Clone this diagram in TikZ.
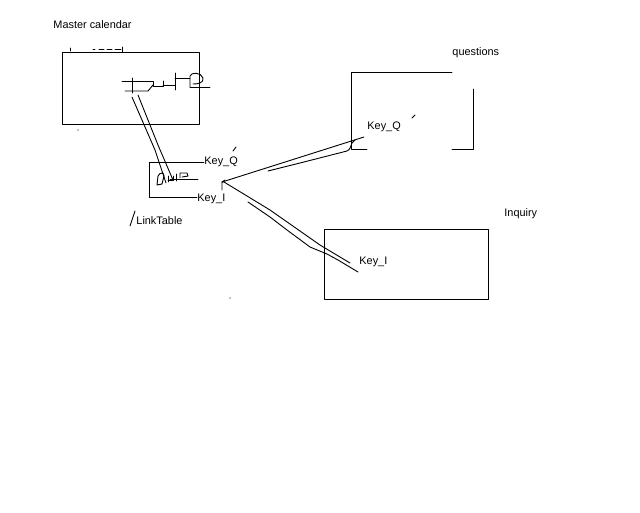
\documentclass[tikz,border=0pt]{standalone}
\usepackage{fontspec}
\setmainfont{Liberation Sans}
\begin{document}
\begin{tikzpicture}[x=1pt,y=-1pt,line width=0.9pt,
  lbl/.style={anchor=base west,inner sep=0pt,font=\fontsize{10.9}{12}\selectfont},
  pen/.style={line width=0.9pt,line join=round,line cap=round}]
\useasboundingbox[fill=white] (0,0) rectangle (640,512);
% boxes
\node[draw,pen,minimum width=137pt,minimum height=72pt,inner sep=0pt,anchor=north west] (mc) at (62,52) {};
\node[minimum width=54pt,minimum height=35pt,inner sep=0pt,anchor=north west] (lt) at (149,162) {};
\node[draw,pen,minimum width=164pt,minimum height=70pt,inner sep=0pt,anchor=north west] (inq) at (324,229) {};
% questions box (open)
\coordinate (q1) at (351,72);
\draw[pen] (452,72) -- (q1) -- (351,149) -- (367,149);
\draw[pen] (452,149) -- (473,149) -- (473,89);
% labels
\node[lbl] (tmc) at (53,28.5) {Master calendar};
\node[lbl] (tq) at (452,55) {questions};
\node[lbl] (tinq) at (504,216) {Inquiry};
\node[lbl] (tlt) at (136,224) {LinkTable};
\node[lbl] (ltkq) at (204,164) {Key\_Q};
\node[lbl] (ltki) at (197,201) {Key\_I};
\node[lbl] (qkq) at (367,129) {Key\_Q};
\node[lbl] (iki) at (359,264) {Key\_I};
% LinkTable open box joined to its key labels
\draw[pen] (ltkq.west|-lt.north west) -- (lt.north west) -- (lt.south west) -- (ltki.west|-lt.south west);
% marks
\draw[pen] (130,226) -- (135,211);
\draw[pen] (233,151) -- (236,147);
\draw[pen] (412,118) -- (415,115);
\draw[pen] (70,48) -- (70,51);
\draw[pen] (93,49) -- (95,49) (99,49) -- (104,49) (107,49) -- (112,49) (115,49) -- (121,49) (122,47) -- (122,52);
\fill (78,130) circle (0.6pt);
\fill (230,298) circle (0.6pt);
% master calendar scribble
\draw[pen] (122,81) -- (153,81) -- (153,86) -- (163,86) -- (163,81);
\draw[pen] (125,91) -- (148,91) -- (153,85);
\draw[pen] (132,78) -- (132,93);
\draw[pen] (163,85) -- (175,85);
\draw[pen] (175,73) -- (175,90);
\draw[pen] (175,78) -- (190,78);
\draw[pen] (190,87) -- (190,76) .. controls (191,72) and (201,72) .. (203,78) .. controls (204,83) and (198,84) .. (193,84);
\draw[pen] (190,87) -- (210,87);
% linktable scribble
\draw[pen] (158,176) .. controls (160,172) and (164,172) .. (164,176) -- (162,184) -- (157,185) -- (158,176);
\draw[pen] (168,182) -- (168,176) (168,180) -- (173,180) -- (173,176) (176,174) -- (176,181);
\draw[pen] (180,178) -- (180,173) -- (187,173) -- (188,176) -- (182,177);
\draw[pen] (170,179) -- (198,179);
% I marks near linktable right
\coordinate (lk) at (222,182);
\draw[pen] (222,190) -- (lk) -- (225,180);
% master -> linktable (double hand line)
\coordinate (m1) at (132,97);
\coordinate (m2) at (138,95);
\coordinate (l1) at (166,183);
\coordinate (l2) at (173,180);
\draw[pen] (m1) -- (155,150) -- (l1);
\draw[pen] (m2) -- (158,145) -- (l2);
% linktable -> questions
\coordinate (qa) at (364,137);
\coordinate (qb) at (352,143);
\draw[pen] (lk) -- (qa);
\draw[pen] (268,171) -- (300,163) -- (347,151) .. controls (350,150) and (351,146) .. (qb) -- (355,140);
% linktable -> inquiry
\coordinate (ia) at (350,263);
\coordinate (ib) at (358,272);
\draw[pen] (lk) -- (224,182) -- (270,210) -- (320,245) -- (ia);
\draw[pen] (248,202) -- (270,217) -- (287,230) -- (310,247) -- (327,254) -- (338,260) -- (ib);
\end{tikzpicture}
\end{document}
